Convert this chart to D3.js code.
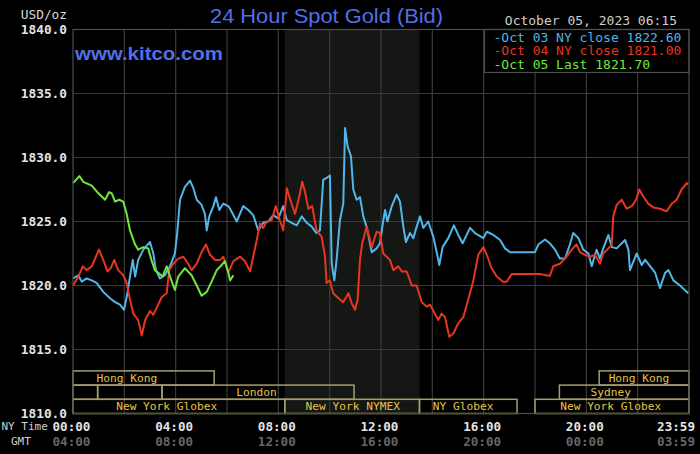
<!DOCTYPE html>
<html>
<head>
<meta charset="utf-8">
<script src="https://cdn.jsdelivr.net/npm/d3@7"></script>
<style>
  html, body { margin: 0; padding: 0; background: #000; }
  #chart { width: 700px; height: 454px; }
  text { font-family: "DejaVu Sans Mono", monospace; }
</style>
</head>
<body>
<div id="chart"></div>
<script>
// [NY time in hours, bid price]
const oct03 = [[0.00,1820.55],[0.21,1820.8],[0.34,1820.3],[0.53,1820.55],[0.73,1820.4],[0.92,1820.2],[1.18,1819.5],[1.44,1819.0],[1.64,1818.7],[1.83,1818.5],[1.99,1818.1],[2.12,1819.4],[2.22,1820.7],[2.33,1822.0],[2.42,1820.7],[2.54,1822.0],[2.74,1822.8],[3.00,1823.4],[3.13,1822.5],[3.23,1821.2],[3.39,1820.55],[3.58,1820.8],[3.78,1821.5],[3.97,1822.5],[4.06,1824.1],[4.17,1826.7],[4.36,1827.7],[4.56,1828.2],[4.69,1827.6],[4.82,1826.7],[5.01,1826.3],[5.14,1825.6],[5.21,1824.3],[5.31,1825.4],[5.47,1826.2],[5.57,1826.9],[5.70,1825.9],[5.86,1826.4],[6.05,1826.2],[6.12,1826.0],[6.38,1825.0],[6.63,1826.2],[6.83,1825.9],[7.02,1825.5],[7.22,1824.3],[7.41,1824.9],[7.61,1825.0],[7.80,1825.5],[8.00,1825.25],[8.19,1826.2],[8.33,1825.1],[8.52,1824.9],[8.72,1824.7],[8.91,1825.4],[9.11,1824.9],[9.30,1824.6],[9.49,1824.1],[9.62,1824.3],[9.75,1828.25],[9.88,1828.4],[10.01,1828.6],[10.08,1821.7],[10.18,1820.4],[10.27,1822.0],[10.40,1825.1],[10.53,1826.4],[10.60,1832.3],[10.70,1830.85],[10.83,1830.1],[10.92,1827.5],[11.05,1826.7],[11.18,1826.9],[11.31,1825.4],[11.44,1824.6],[11.64,1822.6],[11.83,1822.9],[11.96,1823.3],[12.09,1825.1],[12.16,1825.9],[12.25,1825.0],[12.42,1826.2],[12.61,1827.1],[12.74,1826.55],[12.87,1824.6],[12.97,1823.4],[13.13,1824.1],[13.26,1823.7],[13.39,1824.6],[13.52,1825.4],[13.65,1824.5],[13.84,1825.0],[14.04,1823.8],[14.17,1822.6],[14.27,1821.6],[14.40,1823.0],[14.62,1823.7],[14.84,1824.7],[15.01,1823.95],[15.18,1823.3],[15.47,1824.5],[15.66,1824.1],[15.99,1823.7],[16.12,1824.2],[16.38,1823.95],[16.64,1823.55],[16.83,1822.9],[17.03,1822.6],[18.00,1822.6],[18.13,1823.2],[18.39,1823.6],[18.58,1823.3],[18.78,1822.8],[18.97,1822.1],[19.17,1822.1],[19.36,1823.2],[19.49,1824.1],[19.69,1823.7],[19.88,1822.8],[20.08,1822.5],[20.21,1821.5],[20.40,1822.8],[20.53,1822.1],[20.66,1822.9],[20.86,1823.95],[20.99,1823.0],[21.18,1822.9],[21.51,1823.55],[21.64,1822.8],[21.70,1821.2],[21.96,1822.5],[22.16,1821.6],[22.29,1822.0],[22.49,1821.5],[22.68,1821.0],[22.87,1819.8],[23.07,1821.0],[23.20,1821.2],[23.39,1820.4],[23.65,1820.0],[23.91,1819.5],[23.98,1819.4]];

const oct04 = [[0.00,1820.0],[0.21,1820.7],[0.38,1821.5],[0.53,1821.2],[0.73,1821.5],[0.86,1822.1],[1.01,1822.8],[1.18,1822.0],[1.34,1821.1],[1.47,1821.35],[1.61,1822.0],[1.76,1821.2],[1.96,1820.8],[2.09,1820.2],[2.22,1818.9],[2.35,1817.8],[2.54,1817.3],[2.68,1816.1],[2.81,1817.3],[3.00,1818.0],[3.13,1817.7],[3.28,1818.35],[3.46,1819.1],[3.65,1819.4],[3.75,1821.2],[3.91,1821.7],[4.10,1822.1],[4.30,1822.25],[4.49,1821.7],[4.62,1821.2],[4.82,1821.7],[5.01,1822.6],[5.18,1823.2],[5.34,1822.4],[5.53,1822.0],[5.73,1822.0],[5.86,1822.25],[6.05,1821.0],[6.25,1821.9],[6.51,1822.25],[6.70,1821.9],[6.90,1821.1],[7.02,1822.25],[7.16,1823.55],[7.29,1824.85],[7.41,1824.5],[7.55,1825.0],[7.74,1825.1],[7.90,1826.2],[8.06,1825.1],[8.19,1824.3],[8.33,1827.6],[8.45,1826.8],[8.65,1825.6],[8.81,1826.9],[8.93,1828.1],[9.04,1827.3],[9.17,1826.0],[9.32,1826.2],[9.49,1824.3],[9.69,1823.8],[9.82,1822.25],[9.88,1820.2],[10.01,1820.4],[10.14,1819.4],[10.34,1819.0],[10.53,1818.7],[10.73,1819.4],[10.86,1818.6],[10.99,1818.1],[11.09,1818.9],[11.18,1822.0],[11.27,1823.3],[11.44,1824.6],[11.64,1823.0],[11.83,1824.2],[11.96,1824.1],[12.09,1822.5],[12.22,1822.25],[12.35,1822.0],[12.48,1821.2],[12.67,1821.5],[12.81,1821.1],[13.00,1821.1],[13.20,1820.0],[13.39,1820.0],[13.59,1818.7],[13.78,1818.35],[13.91,1818.5],[14.10,1817.8],[14.23,1817.3],[14.36,1817.8],[14.49,1817.55],[14.66,1816.0],[14.82,1816.25],[15.01,1817.05],[15.21,1817.55],[15.40,1818.9],[15.60,1820.4],[15.79,1822.4],[15.99,1823.0],[16.12,1822.4],[16.31,1821.35],[16.51,1820.7],[16.76,1820.3],[16.90,1820.3],[17.09,1820.9],[18.07,1820.9],[18.19,1820.9],[18.58,1820.75],[18.71,1821.5],[18.97,1821.7],[19.23,1822.25],[19.43,1822.8],[19.62,1823.2],[19.75,1822.6],[19.95,1822.4],[20.14,1822.25],[20.34,1822.4],[20.53,1821.7],[20.66,1822.5],[20.86,1822.9],[20.99,1823.2],[21.05,1825.4],[21.18,1826.3],[21.38,1826.7],[21.57,1826.0],[21.77,1826.2],[21.94,1826.7],[22.06,1827.5],[22.22,1826.95],[22.41,1826.4],[22.61,1826.1],[22.87,1826.0],[23.13,1825.8],[23.33,1826.4],[23.52,1826.7],[23.71,1827.5],[23.91,1828.0],[23.98,1827.9]];

const oct05 = [[0.00,1828.0],[0.25,1828.55],[0.40,1828.1],[0.73,1827.8],[0.99,1827.2],[1.25,1826.7],[1.41,1827.3],[1.51,1827.2],[1.64,1826.55],[1.80,1826.7],[1.96,1826.55],[2.09,1825.6],[2.22,1824.3],[2.42,1823.2],[2.54,1822.8],[2.74,1823.0],[2.93,1822.9],[3.07,1821.9],[3.19,1821.2],[3.32,1821.0],[3.49,1820.7],[3.65,1821.5],[3.78,1820.7],[3.97,1819.65],[4.10,1820.7],[4.36,1821.35],[4.62,1820.8],[4.82,1820.0],[5.01,1819.2],[5.21,1819.5],[5.40,1820.3],[5.60,1821.2],[5.79,1821.6],[5.92,1821.9],[6.05,1821.0],[6.12,1820.4],[6.25,1820.8]];

const priceTicks = [1810, 1815, 1820, 1825, 1830, 1835, 1840];
const gridHours = [2, 4, 6, 8, 10, 12, 14, 16, 18, 20, 22];
const timeTicks = [0, 4, 8, 12, 16, 20, 24];
const nyLabels = ["00:00", "04:00", "08:00", "12:00", "16:00", "20:00", "23:59"];
const gmtLabels = ["04:00", "08:00", "12:00", "16:00", "20:00", "00:00", "03:59"];

// NYMEX pit session (shaded)
const nymexHours = [8.25, 13.5];

// market sessions: row 0 is top; labelAt is the hour the name is centred on
const sessions = [
  { name: "Hong Kong", row: 0, start: 0, end: 5.5, labelAt: 2.1 },
  { name: "Hong Kong", row: 0, start: 20.5, end: 24, labelAt: 22.05 },
  { name: "", row: 1, start: 0, end: 0.96 },
  { name: "", row: 1, start: 0.96, end: 3.47 },
  { name: "London", row: 1, start: 3.47, end: 10.95, labelAt: 7.15 },
  { name: "Sydney", row: 1, start: 18.95, end: 24, labelAt: 20.95 },
  { name: "New York Globex", row: 2, start: 0, end: 8.25, labelAt: 3.65 },
  { name: "New York NYMEX", row: 2, start: 8.25, end: 13.5, labelAt: 10.9 },
  { name: "NY Globex", row: 2, start: 13.5, end: 17.3, labelAt: 15.2 },
  { name: "New York Globex", row: 2, start: 18, end: 24, labelAt: 20.95 }
];

const legendItems = [
  { label: "Oct 03 NY close 1822.60", color: "#52b6e8" },
  { label: "Oct 04 NY close 1821.00", color: "#e8351f" },
  { label: "Oct 05 Last 1821.70", color: "#72e63e" }
];
const seriesList = [oct03, oct04, oct05];

class GoldChart {
  constructor(opts) {
    this.element = opts.element;
    this.width = 700;
    this.height = 454;
    this.margin = { top: 29.5, right: 11, bottom: 40.5, left: 73 };
    this.draw();
  }

  draw() {
    this.element.innerHTML = '';
    this.svg = d3.select(this.element).append('svg')
      .attr('width', this.width)
      .attr('height', this.height)
      .style('background', '#000');

    this.createScales();
    this.addBackground();
    this.addSessions();
    this.addLines();
    this.addLegend();
    this.addAxes();
    this.addTitles();
  }

  createScales() {
    const m = this.margin;
    this.x0 = m.left;
    this.x1 = this.width - m.right;
    this.y0 = m.top;
    this.y1 = this.height - m.bottom;
    this.xScale = d3.scaleLinear().domain([0, 24]).range([this.x0, this.x1]);
    this.yScale = d3.scaleLinear().domain([1810, 1840]).range([this.y1, this.y0]);
  }

  addBackground() {
    const x = this.xScale, y = this.yScale;
    this.svg.append('rect')
      .attr('x', x(nymexHours[0])).attr('y', this.y0)
      .attr('width', x(nymexHours[1]) - x(nymexHours[0]))
      .attr('height', this.y1 - this.y0)
      .attr('fill', '#151715');

    const grid = this.svg.append('g').attr('stroke', '#3a3a3a').attr('stroke-width', 1.2);
    grid.selectAll('.vg').data(gridHours).enter().append('line')
      .attr('x1', d => x(d)).attr('x2', d => x(d))
      .attr('y1', this.y0).attr('y2', this.y1);
    grid.selectAll('.hg').data(priceTicks.slice(1, -1)).enter().append('line')
      .attr('x1', this.x0).attr('x2', this.x1)
      .attr('y1', d => y(d)).attr('y2', d => y(d));
  }

  addSessions() {
    const x = this.xScale;
    const rowH = 14.2;
    const top = r => this.y1 - (3 - r) * rowH;
    const g = this.svg.append('g');
    g.selectAll('rect').data(sessions).enter().append('rect')
      .attr('x', d => x(d.start)).attr('y', d => top(d.row))
      .attr('width', d => x(d.end) - x(d.start))
      .attr('height', rowH)
      .attr('fill', 'none')
      .attr('stroke', '#a59e6c')
      .attr('stroke-width', 1.5);
    g.selectAll('text').data(sessions.filter(d => d.name)).enter().append('text')
      .attr('x', d => x(d.labelAt)).attr('y', d => top(d.row) + 11)
      .attr('text-anchor', 'middle')
      .attr('font-size', 11.2)
      .attr('fill', '#e6c448')
      .text(d => d.name);
  }

  addLines() {
    const line = d3.line()
      .x(d => this.xScale(d[0]))
      .y(d => this.yScale(d[1]));
    this.svg.selectAll('.series').data(seriesList).enter().append('path')
      .attr('fill', 'none')
      .attr('stroke', (d, i) => legendItems[i].color)
      .attr('stroke-width', 2)
      .attr('stroke-linejoin', 'round')
      .attr('d', line);
  }

  addLegend() {
    const bx = 484.5, by = this.y0, bw = this.x1 - 484.5, bh = 43;
    const g = this.svg.append('g');
    g.append('rect').attr('x', bx).attr('y', by).attr('width', bw).attr('height', bh)
      .attr('fill', '#000').attr('stroke', '#4a4a4a').attr('stroke-width', 1.2);
    g.selectAll('text').data(legendItems).enter().append('text')
      .attr('x', bx + 9).attr('y', (d, i) => by + 12 + i * 13.6)
      .attr('font-size', 13)
      .attr('fill', d => d.color)
      .text(d => '-' + d.label);
  }

  addAxes() {
    const x = this.xScale, y = this.yScale;
    this.svg.append('rect')
      .attr('x', this.x0).attr('y', this.y0)
      .attr('width', this.x1 - this.x0).attr('height', this.y1 - this.y0)
      .attr('fill', 'none').attr('stroke', '#4d4d4d').attr('stroke-width', 1.2);

    const yAxis = this.svg.append('g').attr('font-size', 12.8).attr('font-weight', 'bold').attr('fill', '#e4e4e4');
    yAxis.selectAll('text').data(priceTicks).enter().append('text')
      .attr('x', 67).attr('y', d => y(d) + 4.5)
      .attr('text-anchor', 'end')
      .text(d => d3.format('.1f')(d));
    yAxis.append('text').attr('x', 67).attr('y', 19).attr('text-anchor', 'end')
      .attr('font-weight', 'normal').attr('fill', '#d8d8d8').text('USD/oz');

    const last = timeTicks.length - 1;
    const anchor = i => i === last ? 'end' : 'middle';
    const tx = (d, i) => i === last ? x(d) + 6 : x(d) - 1.5;
    const xAxis = this.svg.append('g').attr('font-size', 12.6).attr('font-weight', 'bold');
    xAxis.selectAll('.ny').data(timeTicks).enter().append('text')
      .attr('x', tx).attr('y', 430.5)
      .attr('text-anchor', (d, i) => anchor(i))
      .attr('fill', '#e4e4e4')
      .text((d, i) => nyLabels[i]);
    xAxis.selectAll('.gmt').data(timeTicks).enter().append('text')
      .attr('x', tx).attr('y', 446)
      .attr('text-anchor', (d, i) => anchor(i))
      .attr('fill', '#666')
      .text((d, i) => gmtLabels[i]);
    xAxis.append('text').attr('x', 1.5).attr('y', 430).attr('font-weight', 'normal')
      .attr('font-size', 11).attr('fill', '#d0d0d0').text('NY Time');
    xAxis.append('text').attr('x', 11).attr('y', 444.5).attr('font-weight', 'normal')
      .attr('font-size', 11).attr('fill', '#d0d0d0').text('GMT');
  }

  addTitles() {
    this.svg.append('text')
      .attr('x', 210).attr('y', 23)
      .attr('textLength', 233).attr('lengthAdjust', 'spacingAndGlyphs')
      .style('font-family', '"Liberation Sans", Arial, sans-serif')
      .attr('font-size', 20)
      .attr('fill', '#536fe8')
      .text('24 Hour Spot Gold (Bid)');
    this.svg.append('text')
      .attr('x', 75).attr('y', 59.5)
      .attr('textLength', 148).attr('lengthAdjust', 'spacingAndGlyphs')
      .style('font-family', '"Liberation Sans", Arial, sans-serif')
      .attr('font-size', 19).attr('font-weight', 'bold')
      .attr('fill', '#536fe8')
      .text('www.kitco.com');
    this.svg.append('text')
      .attr('x', 677).attr('y', 25)
      .attr('text-anchor', 'end')
      .attr('font-size', 13)
      .attr('fill', '#cfcfcf')
      .text('October 05, 2023 06:15');
  }
}

new GoldChart({ element: document.getElementById('chart') });
</script>
</body>
</html>
